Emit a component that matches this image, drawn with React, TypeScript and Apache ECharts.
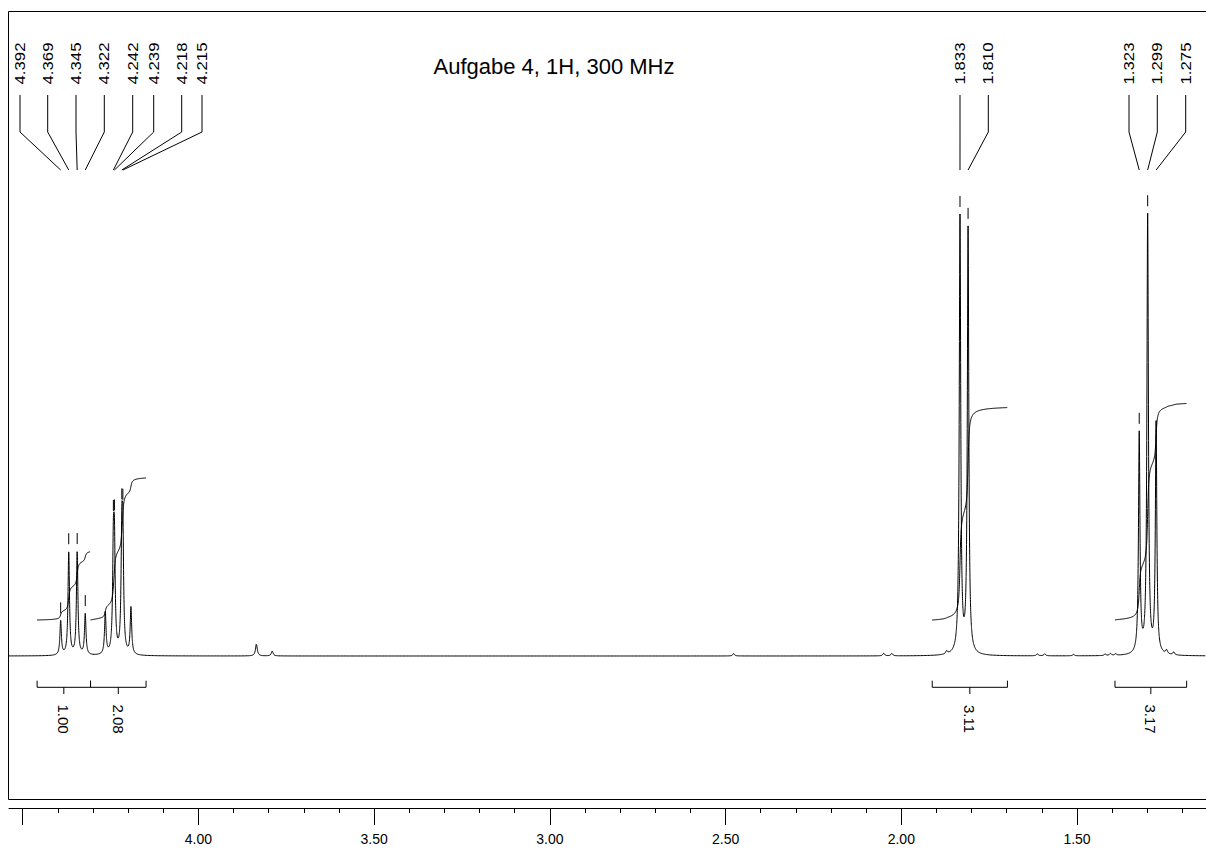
import React, { useEffect, useRef } from "react";
import * as echarts from "echarts";

// ---------- data ----------
// Peak list: chemical shift (ppm), apex intensity (relative), half-width (ppm)
const PEAK_PPM = [
  4.392, 4.369, 4.345, 4.322, 4.265, 4.242, 4.239, 4.218, 4.215, 4.192,
  3.835, 3.79, 2.477, 2.05, 2.027, 1.871, 1.833, 1.81, 1.613, 1.592,
  1.51, 1.42, 1.405, 1.39, 1.323, 1.299, 1.275, 1.245, 1.225,
];
const PEAK_HEIGHT = [
  7.64, 23.15, 23.15, 9.21, 9.44, 21.57, 21.57, 23.37, 23.37, 10.56,
  2.7, 1.12, 0.56, 0.6, 0.56, 0.67, 98.2, 95.5, 0.45, 0.45,
  0.34, 0.34, 0.45, 0.34, 49.4, 98.4, 51.7, 0.9, 0.67,
];
const PEAK_HALFWIDTH = [
  0.0025, 0.0025, 0.0025, 0.0025, 0.0025, 0.0025, 0.0025, 0.0025, 0.0025, 0.0025,
  0.003, 0.003, 0.003, 0.003, 0.003, 0.003, 0.0025, 0.0025, 0.003, 0.003,
  0.003, 0.003, 0.003, 0.003, 0.0025, 0.0025, 0.0025, 0.003, 0.003,
];

// Peak-pick labels
const LABEL_PPM = [4.392, 4.369, 4.345, 4.322, 4.242, 4.239, 4.218, 4.215, 1.833, 1.81, 1.323, 1.299, 1.275];
const LABEL_TEXT = ["4.392", "4.369", "4.345", "4.322", "4.242", "4.239", "4.218", "4.215", "1.833", "1.810", "1.323", "1.299", "1.275"];
const LABEL_MARKER = [true, true, true, true, true, true, true, true, true, true, true, true, false];

// Integrals: region start / end (ppm) and value
const INTEGRAL_FROM = [4.459, 4.307, 1.912, 1.392];
const INTEGRAL_TO = [4.307, 4.149, 1.698, 1.188];
const INTEGRAL_VALUE = [1.0, 2.08, 3.11, 3.17];

// Axis
const X_MIN = 1.133;
const X_MAX = 4.539;
const MAJOR_TICKS = [4.5, 4.0, 3.5, 3.0, 2.5, 2.0, 1.5];
const TICK_LABEL_VALUES = [4.0, 3.5, 3.0, 2.5, 2.0, 1.5];
const MINOR_TICKS = [
  4.4, 4.3, 4.2, 4.1, 3.9, 3.8, 3.7, 3.6, 3.4, 3.3, 3.2, 3.1, 2.9, 2.8, 2.7, 2.6,
  2.4, 2.3, 2.2, 2.1, 1.9, 1.8, 1.7, 1.6, 1.4, 1.3, 1.2,
];
const TITLE = "Aufgabe 4, 1H, 300 MHz";

// ---------- layout (pixels) ----------
const W = 1206;
const H = 852;
const GRID_LEFT = 9;
const GRID_TOP = 11;
const AXIS_Y = 808;
const BASELINE_Y = 656;
const PX_PER_UNIT = 4.45;
const Y_MIN = -(AXIS_Y - BASELINE_Y) / PX_PER_UNIT;
const Y_MAX = (BASELINE_Y - GRID_TOP) / PX_PER_UNIT;
const INT_BASE = 36 / PX_PER_UNIT; // integral curve start above baseline
const INT_SCALE = 68.3 / PX_PER_UNIT; // per integral unit
const LABEL_X_PX = [20, 47.7, 76, 104.3, 132.7, 153.7, 181.7, 202, 960, 988.3, 1129, 1157.3, 1185.7];
const FONT = "'Liberation Sans', Arial, sans-serif";

function spectrum(x: number): number {
  let s = 0;
  for (let i = 0; i < PEAK_PPM.length; i++) {
    const d = x - PEAK_PPM[i];
    const g = PEAK_HALFWIDTH[i];
    s += (PEAK_HEIGHT[i] * g * g) / (g * g + d * d);
  }
  return s;
}

function buildSpectrum(): number[][] {
  const xs: number[] = [];
  for (let x = X_MAX; x >= X_MIN; x -= 0.002) xs.push(x);
  PEAK_PPM.forEach((p) => {
    for (let x = p - 0.02; x <= p + 0.02; x += 0.0002) xs.push(x);
    xs.push(p);
  });
  xs.sort((a, b) => b - a);
  const out: number[][] = [];
  let last = Infinity;
  for (const x of xs) {
    if (x > X_MAX || x < X_MIN) continue;
    if (last - x < 0.00005) continue;
    last = x;
    out.push([x, spectrum(x)]);
  }
  return out;
}

function buildIntegral(i: number): number[][] {
  const a = INTEGRAL_FROM[i];
  const b = INTEGRAL_TO[i];
  const step = 0.0002;
  const xs: number[] = [];
  for (let x = a; x >= b; x -= step) xs.push(x);
  const ys = xs.map(spectrum);
  const cum = [0];
  for (let k = 1; k < xs.length; k++) cum.push(cum[k - 1] + ((ys[k] + ys[k - 1]) / 2) * step);
  const total = cum[cum.length - 1];
  return xs.map((x, k) => [x, INT_BASE + INTEGRAL_VALUE[i] * INT_SCALE * (cum[k] / total)]);
}

export default function App() {
  const ref = useRef<HTMLDivElement>(null);
  useEffect(() => {
    if (!ref.current) return;
    document.body.style.margin = "0";
    const chart = echarts.init(ref.current, null, { renderer: "svg", width: W, height: H });
    const specData = buildSpectrum();
    const integralSeries = INTEGRAL_FROM.map((_, i) => ({
      type: "line",
      data: buildIntegral(i),
      symbol: "none",
      silent: true,
      lineStyle: { color: "#000", width: 1 },
      z: 3,
    }));

    const annotations = {
      type: "custom",
      data: [[2, 0]],
      silent: true,
      clip: false,
      z: 4,
      renderItem: (_params: any, api: any) => {
        const children: any[] = [];
        LABEL_PPM.forEach((p, i) => {
          const [px, py] = api.coord([p, spectrum(p)]);
          const lx = LABEL_X_PX[i];
          children.push({
            type: "polyline",
            shape: { points: [[lx, 95], [lx, 132], [px, 170]] },
            style: { stroke: "#000", lineWidth: 1, fill: null },
          });
          children.push({
            type: "text",
            x: lx,
            y: 63.5,
            rotation: Math.PI / 2,
            scaleX: 1.2,
            style: {
              text: LABEL_TEXT[i],
              fontSize: 14,
              fontFamily: FONT,
              fill: "#000",
              align: "center",
              verticalAlign: "middle",
            },
          });
          if (LABEL_MARKER[i]) {
            children.push({
              type: "line",
              shape: { x1: px, y1: py - 7, x2: px, y2: py - 18 },
              style: { stroke: "#000", lineWidth: 1 },
            });
          }
        });
        INTEGRAL_FROM.forEach((a, i) => {
          const xa = api.coord([a, 0])[0];
          const xb = api.coord([INTEGRAL_TO[i], 0])[0];
          const yb = BASELINE_Y + 31.3;
          children.push({
            type: "polyline",
            shape: { points: [[xa, yb - 6.6], [xa, yb], [xb, yb], [xb, yb - 6.6]] },
            style: { stroke: "#000", lineWidth: 1, fill: null },
          });
          const xc = (xa + xb) / 2;
          children.push({
            type: "line",
            shape: { x1: xc, y1: yb, x2: xc, y2: yb + 6.7 },
            style: { stroke: "#000", lineWidth: 1 },
          });
          children.push({
            type: "text",
            x: xc,
            y: 719,
            rotation: -Math.PI / 2,
            style: {
              text: INTEGRAL_VALUE[i].toFixed(2),
              fontSize: 15,
              fontFamily: FONT,
              fill: "#000",
              align: "center",
              verticalAlign: "middle",
            },
          });
        });
        return { type: "group", children };
      },
    };

    chart.setOption({
      animation: false,
      backgroundColor: "#fff",
      grid: { left: GRID_LEFT, right: 0, top: GRID_TOP, bottom: H - AXIS_Y, containLabel: false },
      xAxis: [
        {
          type: "value",
          inverse: true,
          min: X_MIN,
          max: X_MAX,
          position: "bottom",
          axisLine: { show: true, onZero: false, lineStyle: { color: "#000", width: 1 } },
          axisTick: { show: true, inside: false, length: 17, customValues: MAJOR_TICKS, lineStyle: { color: "#000" } },
          axisLabel: {
            show: true,
            customValues: TICK_LABEL_VALUES,
            formatter: (v: number) => v.toFixed(2),
            margin: 24,
            fontSize: 14,
            fontFamily: FONT,
            color: "#000",
          },
          splitLine: { show: false },
        },
        {
          type: "value",
          inverse: true,
          min: X_MIN,
          max: X_MAX,
          position: "bottom",
          offset: 0,
          axisLine: { show: false, onZero: false },
          axisTick: { show: true, inside: false, length: 5, customValues: MINOR_TICKS, lineStyle: { color: "#000" } },
          axisLabel: { show: false },
          splitLine: { show: false },
        },
      ],
      yAxis: { type: "value", min: Y_MIN, max: Y_MAX, show: false },
      graphic: [
        {
          type: "rect",
          shape: { x: 8.5, y: 11.5, width: W, height: 788 },
          style: { fill: null, stroke: "#000", lineWidth: 1 },
          silent: true,
          z: 1,
        },
        {
          type: "text",
          x: 554,
          y: 66,
          style: {
            text: TITLE,
            fontSize: 22,
            fontFamily: FONT,
            fill: "#000",
            align: "center",
            verticalAlign: "middle",
          },
          silent: true,
        },
      ],
      series: [
        {
          type: "line",
          data: specData,
          symbol: "none",
          silent: true,
          lineStyle: { color: "#000", width: 1 },
          z: 2,
        },
        ...integralSeries,
        annotations,
      ],
    });
    return () => chart.dispose();
  }, []);
  return <div ref={ref} style={{ position: "fixed", left: 0, top: 0, width: W, height: H }} />;
}
